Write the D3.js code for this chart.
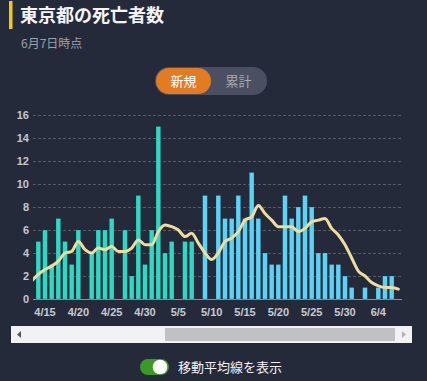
<!DOCTYPE html>
<html>
<head>
<meta charset="utf-8">
<script src="https://cdn.jsdelivr.net/npm/d3@7"></script>
<style>
  html, body { margin: 0; padding: 0; background: #252a3a; }
  #chart { width: 427px; height: 381px; }
  text { font-family: "Liberation Sans", Arial, "Noto Sans CJK JP", sans-serif; }
  .jp { font-family: "Noto Sans CJK JP", "Noto Sans", sans-serif; }
</style>
</head>
<body>
<div id="chart"></div>
<script>
//データ
const dates = ['4/13','4/14','4/15','4/16','4/17','4/18','4/19','4/20','4/21','4/22','4/23','4/24','4/25','4/26','4/27','4/28','4/29','4/30',
    '5/1','5/2','5/3','5/4','5/5','5/6','5/7','5/8','5/9','5/10','5/11','5/12','5/13','5/14','5/15','5/16','5/17','5/18','5/19','5/20',
    '5/21','5/22','5/23','5/24','5/25','5/26','5/27','5/28','5/29','5/30','5/31','6/1','6/2','6/3','6/4','6/5','6/6','6/7'];
const deaths = [0,5,6,3,7,5,3,6,0,4,6,6,7,0,6,2,9,3,
    6,15,4,5,0,5,5,0,9,0,9,7,7,9,7,11,7,4,3,3,
    9,7,8,9,8,4,4,3,3,2,1,0,1,0,1,2,2,0];
//7日間移動平均
const movingAvg = [1.57,2.14,2.57,2.86,3.29,4.0,4.14,5.0,4.29,4.0,4.43,4.29,4.57,4.14,4.14,4.43,5.14,4.71,
    4.71,5.86,6.43,6.29,6.0,5.43,5.71,4.86,4.0,3.43,4.0,5.0,5.29,5.86,6.86,7.14,8.14,7.43,6.86,6.29,
    6.29,6.29,5.86,6.14,6.71,6.86,7.0,6.14,5.57,4.71,3.57,2.43,2.0,1.43,1.14,1.0,1.0,0.86];
const secondGroupFrom = '5/9';
const yTicks = [0,2,4,6,8,10,12,14,16];
const xTickLabels = ['4/15','4/20','4/25','4/30','5/5','5/10','5/15','5/20','5/25','5/30','6/4'];

const title = '東京都の死亡者数',
    subtitle = '6月7日時点',
    tabs = ['新規', '累計'],
    toggleLabel = '移動平均線を表示';

//色
const COLOR_BG = '#252a3a',
    COLOR_BAR_1 = '#2fd8c3',
    COLOR_BAR_2 = '#5bd3f5',
    COLOR_LINE = '#efdc9f';

let W = 427, H = 381;
let svg = d3.select('#chart').append('svg')
    .attr('width', W).attr('height', H)
    .style('display', 'block')
    .style('background', COLOR_BG);

//タイトル
svg.append('rect').attr('x', 9).attr('y', 1).attr('width', 3.5).attr('height', 28).attr('fill', '#f3c81b');
svg.append('text').attr('class', 'jp')
    .attr('x', 20).attr('y', 22)
    .attr('font-size', 18).attr('font-weight', 'bold').attr('fill', '#f4f4f6')
    .text(title);
svg.append('text').attr('class', 'jp')
    .attr('x', 21).attr('y', 48)
    .attr('font-size', 12).attr('fill', '#9ba1ad')
    .text(subtitle);

//タブ
let tabG = svg.append('g');
tabG.append('rect').attr('x', 155).attr('y', 67).attr('width', 112).attr('height', 28).attr('rx', 14).attr('fill', '#4a5062');
tabG.append('rect').attr('x', 156).attr('y', 68).attr('width', 55).attr('height', 26).attr('rx', 13).attr('fill', '#e27b22');
tabG.selectAll('.tab').data(tabs).enter().append('text')
    .attr('class', 'jp')
    .attr('x', function(d, i) { return i == 0 ? 183.5 : 238.5; })
    .attr('y', 85.5)
    .attr('text-anchor', 'middle')
    .attr('font-size', 13)
    .attr('fill', function(d, i) { return i == 0 ? '#ffffff' : '#a8acb6'; })
    .text(function(d) { return d; });

//グラフ
let step = 20 / 3;
let plotLeft = 33, plotRight = 402, x0 = 85 / 3;

let x = d3.scaleBand()
    .domain(dates)
    .range([x0, x0 + step * dates.length])
    .paddingInner(0.3)
    .paddingOuter(0.15);

let y = d3.scaleLinear()
    .domain([0, 16])
    .range([299, 115]);

svg.append('defs').append('clipPath').attr('id', 'plot-clip')
    .append('rect').attr('x', plotLeft).attr('y', 100).attr('width', plotRight - plotLeft).attr('height', 210);

//グリッド
let yAxis = svg.append('g')
    .attr('transform', 'translate(' + plotLeft + ',0)')
    .call(d3.axisLeft(y).tickValues(yTicks).tickSize(0).tickPadding(4));
yAxis.select('.domain').remove();
yAxis.selectAll('text')
    .attr('font-size', 11).attr('font-weight', 'bold').attr('fill', '#c3c7cf')
    .attr('font-family', '"Liberation Sans", Arial, sans-serif');
yAxis.selectAll('.tick').append('line')
    .attr('x1', 0).attr('x2', plotRight - plotLeft)
    .attr('stroke', function(d) { return d == 0 ? '#8b909c' : '#545a6a'; })
    .attr('stroke-width', 1)
    .attr('stroke-dasharray', function(d) { return d == 0 ? null : '3,2'; });

let plot = svg.append('g').attr('clip-path', 'url(#plot-clip)');

let splitIndex = dates.indexOf(secondGroupFrom);

plot.selectAll('.bar')
    .data(dates.map(function(d, i) { return { date: d, value: deaths[i], i: i }; }).filter(function(d) { return d.value > 0; }))
    .enter().append('rect')
    .attr('class', 'bar')
    .attr('x', function(d) { return x(d.date); })
    .attr('width', x.bandwidth())
    .attr('y', function(d) { return y(d.value); })
    .attr('height', function(d) { return y(0) - y(d.value); })
    .attr('fill', function(d) { return d.i >= splitIndex ? COLOR_BAR_2 : COLOR_BAR_1; })
    .attr('stroke', 'rgba(30,40,60,0.35)')
    .attr('stroke-width', 0.6);

//移動平均線
let line = d3.line()
    .x(function(d, i) { return x(dates[i]) + x.bandwidth() / 2; })
    .y(function(d) { return y(d); })
    .curve(d3.curveMonotoneX);

plot.append('path')
    .datum(movingAvg)
    .attr('d', line)
    .attr('fill', 'none')
    .attr('stroke', COLOR_LINE)
    .attr('stroke-width', 3)
    .attr('stroke-linejoin', 'round')
    .attr('stroke-linecap', 'round');

//X軸ラベル
let xAxis = svg.append('g')
    .attr('transform', 'translate(0,299)')
    .call(d3.axisBottom(x).tickValues(xTickLabels).tickSize(0).tickPadding(9));
xAxis.select('.domain').remove();
xAxis.selectAll('text')
    .attr('font-size', 11).attr('font-weight', 'bold').attr('fill', '#c6cad2')
    .attr('font-family', '"Liberation Sans", Arial, sans-serif');

//スクロールバー
let sb = svg.append('g');
sb.append('rect').attr('x', 11).attr('y', 326).attr('width', 401).attr('height', 17).attr('fill', '#f2f2f2');
sb.append('rect').attr('x', 165).attr('y', 328).attr('width', 230).attr('height', 13).attr('fill', '#c1c1c1');
sb.append('path').attr('d', 'M17,334.5 L21,331 L21,338 Z').attr('fill', '#555555');
sb.append('path').attr('d', 'M406,334.5 L402,331 L402,338 Z').attr('fill', '#b3b3b3');

//スイッチ
let sw = svg.append('g');
sw.append('rect').attr('x', 140).attr('y', 359).attr('width', 29).attr('height', 16).attr('rx', 8).attr('fill', '#3a9a25');
sw.append('circle').attr('cx', 160).attr('cy', 367).attr('r', 7.3).attr('fill', '#ffffff');
sw.append('text').attr('class', 'jp')
    .attr('x', 178).attr('y', 372)
    .attr('font-size', 13).attr('fill', '#f2f2f4')
    .text(toggleLabel);
</script>
</body>
</html>
